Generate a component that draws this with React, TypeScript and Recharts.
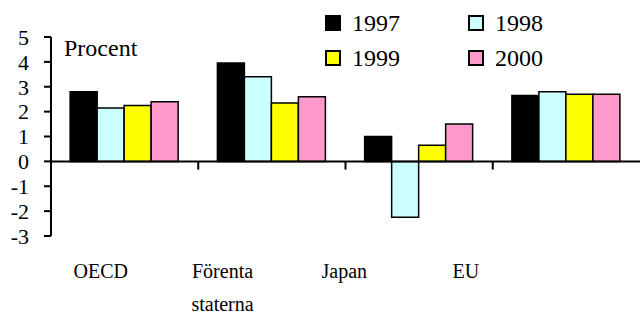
import React from 'react';
import { BarChart, Bar, XAxis, YAxis, ReferenceLine, Legend } from 'recharts';

const categories = ['OECD', 'Förenta staterna', 'Japan', 'EU'];
const y1997 = [2.8, 3.95, 1.0, 2.65];
const y1998 = [2.15, 3.4, -2.25, 2.8];
const y1999 = [2.25, 2.35, 0.65, 2.7];
const y2000 = [2.4, 2.6, 1.5, 2.7];
const yTicks = [-3, -2, -1, 0, 1, 2, 3, 4, 5];
const boundaries = [1, 2, 3];

const series = [
  { key: 'y1997', name: '1997', color: '#000000' },
  { key: 'y1998', name: '1998', color: '#CCFFFF' },
  { key: 'y1999', name: '1999', color: '#FFFF00' },
  { key: 'y2000', name: '2000', color: '#FF99CC' },
];

const data = categories.map((name, i) => ({
  name,
  idx: i,
  y1997: y1997[i],
  y1998: y1998[i],
  y1999: y1999[i],
  y2000: y2000[i],
}));

const FONT = 'Liberation Serif';
const PLOT_LEFT = 51;

// labels in the original sit on a narrower spacing than the categories
const CategoryTick = (props: any) => {
  const { x, y, payload } = props;
  const lx = 40 + (x - PLOT_LEFT) * 0.8265;
  const lines = String(payload.value).split(' ');
  return (
    <text x={lx} y={y} textAnchor="middle" fontFamily={FONT} fontSize={20} fill="#000">
      {lines.map((l, i) => (
        <tspan key={i} x={lx} dy={i === 0 ? 42 : 33}>
          {l}
        </tspan>
      ))}
    </text>
  );
};

const LegendBox = () => (
  <div
    style={{
      display: 'grid',
      gridTemplateColumns: '143px 143px',
      gridAutoRows: '35px',
      paddingTop: 5,
      fontFamily: FONT,
      fontSize: 24,
    }}
  >
    {series.map((s) => (
      <div key={s.key} style={{ display: 'flex', alignItems: 'center' }}>
        <span
          style={{
            width: 12,
            height: 12,
            background: s.color,
            border: '2px solid #000',
            marginRight: 11,
            flex: 'none',
          }}
        />
        <span style={{ lineHeight: 1, color: '#000', fontFamily: FONT }}>{s.name}</span>
      </div>
    ))}
  </div>
);

const App: React.FC = () => {
  return (
    <div style={{ position: 'absolute', left: 0, top: 0, width: 640, height: 315, background: '#fff' }}>
      <BarChart
        width={640}
        height={315}
        data={data}
        margin={{ top: 37, right: 0, left: 0, bottom: 0 }}
        barCategoryGap="13%"
        barGap={0}
      >
        <XAxis
          dataKey="name"
          height={79}
          axisLine={false}
          tickLine={false}
          tickSize={0}
          tickMargin={0}
          interval={0}
          tick={<CategoryTick />}
        />
        <XAxis xAxisId="num" dataKey="idx" type="number" domain={[0, 4]} allowDataOverflow hide />
        <YAxis
          width={51}
          domain={[-3, 5]}
          ticks={yTicks}
          interval={0}
          axisLine={{ stroke: '#000', strokeWidth: 2 }}
          tickLine={{ stroke: '#000', strokeWidth: 2 }}
          tickSize={7}
          tickMargin={15}
          tick={{ fill: '#000', fontSize: 22, fontFamily: FONT }}
        />
        {series.map((s) => (
          <Bar
            key={s.key}
            dataKey={s.key}
            name={s.name}
            fill={s.color}
            stroke="#000"
            strokeWidth={1.5}
            isAnimationActive={false}
          />
        ))}
        <ReferenceLine y={0} stroke="#000" strokeWidth={2} />
        {boundaries.map((b) => (
          <ReferenceLine
            key={b}
            xAxisId="num"
            segment={[
              { x: b, y: 0 },
              { x: b, y: -0.33 },
            ]}
            stroke="#000"
            strokeWidth={2}
          />
        ))}
        <Legend
          layout="horizontal"
          verticalAlign="middle"
          align="center"
          content={<LegendBox />}
          wrapperStyle={{ top: 0, left: 325, width: 300 }}
        />
      </BarChart>
      <div
        style={{
          position: 'absolute',
          left: 64,
          top: 36,
          fontFamily: FONT,
          fontSize: 24,
          lineHeight: 1,
          color: '#000',
        }}
      >
        Procent
      </div>
    </div>
  );
};

export default App;
